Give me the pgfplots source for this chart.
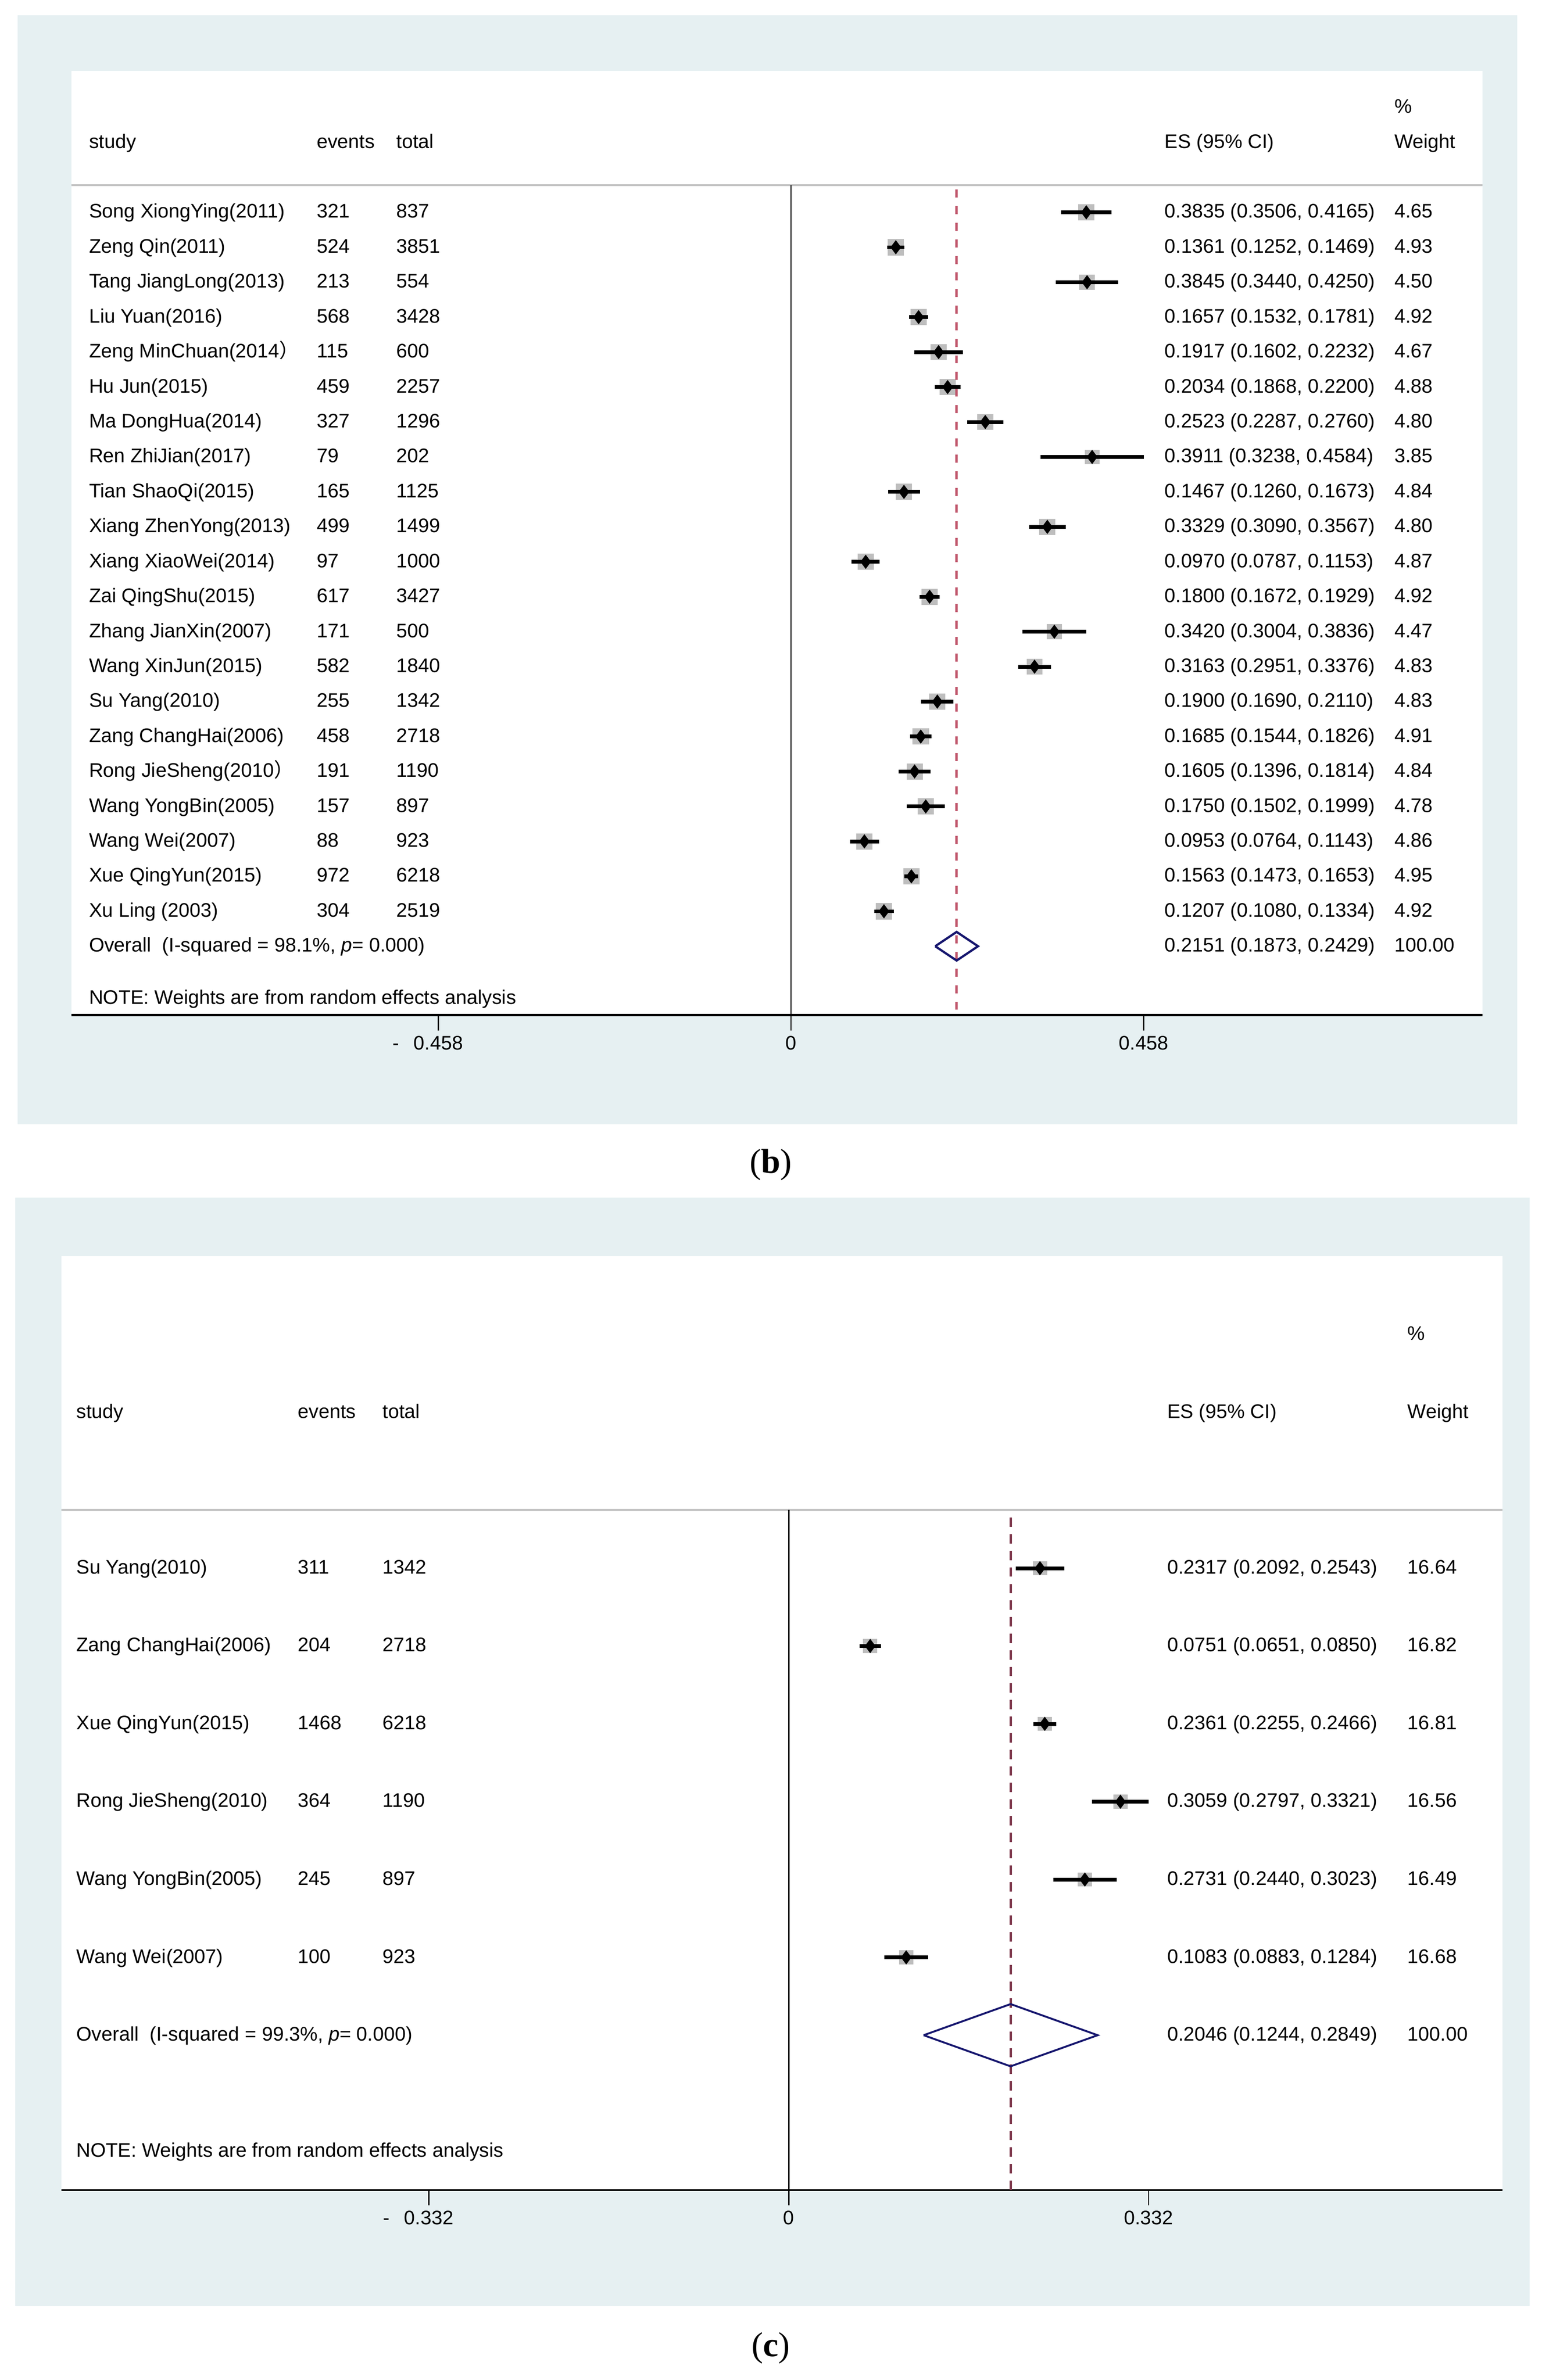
\documentclass[border=0pt]{standalone}
\usepackage{fontspec}
\setmainfont{Liberation Sans}
\newfontfamily\cjk{Noto Sans CJK SC}
\newfontfamily\capfont{Liberation Serif}
\usepackage{pgfplots}
\usepackage{pgfplotstable}
\pgfplotsset{compat=1.18}

% full-width right parenthesis, as typed in two of the study names
\protected\def\fwr{{\cjk ）}}

\definecolor{panelbg}{RGB}{230,240,242}
\definecolor{boxgray}{RGB}{190,190,190}
\definecolor{hdrgray}{RGB}{196,196,196}
\definecolor{refred}{RGB}{190,82,104}
\definecolor{refred2}{RGB}{125,55,75}
\definecolor{ovnavy}{RGB}{22,22,110}

% panel (b): all studies
\pgfplotstableread[col sep=semicolon]{
row;es;lo;hi;w;study;events;total
1;0.3835;0.3506;0.4165;4.65;Song XiongYing(2011);321;837
2;0.1361;0.1252;0.1469;4.93;Zeng Qin(2011);524;3851
3;0.3845;0.3440;0.4250;4.50;Tang JiangLong(2013);213;554
4;0.1657;0.1532;0.1781;4.92;Liu Yuan(2016);568;3428
5;0.1917;0.1602;0.2232;4.67;Zeng MinChuan(2014\fwr;115;600
6;0.2034;0.1868;0.2200;4.88;Hu Jun(2015);459;2257
7;0.2523;0.2287;0.2760;4.80;Ma DongHua(2014);327;1296
8;0.3911;0.3238;0.4584;3.85;Ren ZhiJian(2017);79;202
9;0.1467;0.1260;0.1673;4.84;Tian ShaoQi(2015);165;1125
10;0.3329;0.3090;0.3567;4.80;Xiang ZhenYong(2013);499;1499
11;0.0970;0.0787;0.1153;4.87;Xiang XiaoWei(2014);97;1000
12;0.1800;0.1672;0.1929;4.92;Zai QingShu(2015);617;3427
13;0.3420;0.3004;0.3836;4.47;Zhang JianXin(2007);171;500
14;0.3163;0.2951;0.3376;4.83;Wang XinJun(2015);582;1840
15;0.1900;0.1690;0.2110;4.83;Su Yang(2010);255;1342
16;0.1685;0.1544;0.1826;4.91;Zang ChangHai(2006);458;2718
17;0.1605;0.1396;0.1814;4.84;Rong JieSheng(2010\fwr;191;1190
18;0.1750;0.1502;0.1999;4.78;Wang YongBin(2005);157;897
19;0.0953;0.0764;0.1143;4.86;Wang Wei(2007);88;923
20;0.1563;0.1473;0.1653;4.95;Xue QingYun(2015);972;6218
21;0.1207;0.1080;0.1334;4.92;Xu Ling (2003);304;2519
}\tabb

% panel (c): subset
\pgfplotstableread[col sep=semicolon]{
row;es;lo;hi;w;study;events;total
1;0.2317;0.2092;0.2543;16.64;Su Yang(2010);311;1342
2;0.0751;0.0651;0.0850;16.82;Zang ChangHai(2006);204;2718
3;0.2361;0.2255;0.2466;16.81;Xue QingYun(2015);1468;6218
4;0.3059;0.2797;0.3321;16.56;Rong JieSheng(2010);364;1190
5;0.2731;0.2440;0.3023;16.49;Wang YongBin(2005);245;897
6;0.1083;0.0883;0.1284;16.68;Wang Wei(2007);100;923
}\tabc

\tikzset{lbl/.style={anchor=base west, inner sep=0pt, yshift=-0.36em}}

\pgfplotsset{
  % geometry of the two panels (shared by the box layer and the main axis)
  geob/.style={scale only axis, clip=false, enlargelimits=false,
    at={(15.9mm,-226.6mm)}, anchor=south west,
    width=314.9mm, height=210.8mm,
    xmin=-0.93481, xmax=0.89814, ymin=-23.97, ymax=3.05},
  geoc/.style={scale only axis, clip=false, enlargelimits=false,
    at={(13.7mm,-488.9mm)}, anchor=south west,
    width=321.5mm, height=208.5mm,
    xmin=-0.67094, xmax=0.65812, ymin=-8.99, ymax=3.01},
  fp/.style={axis x line*=bottom, axis y line=none,
    x axis line style={line width=1.3pt},
    tick align=outside, major tick length=3.4mm,
    xtick style={black, line width=0.7pt},
    xticklabel style={black}},
  txtcol/.style={draw=none, mark=none, black, nodes near coords={\pgfplotspointmeta},
    point meta=explicit symbolic,
    every node near coord/.append style={lbl}},
  numcol/.style={draw=none, mark=none, black, point meta=explicit,
    every node near coord/.append style={lbl,
      /pgf/number format/fixed, /pgf/number format/fixed zerofill,
      /pgf/number format/precision=#1,
      /pgf/number format/assume math mode=true}},
  boxes/.style={scatter, only marks, mark=square*, point meta=explicit,
    scatter/use mapped color={draw=boxgray, fill=boxgray},
    visualization depends on={#1*sqrt(\thisrow{w}) \as \msz},
    scatter/@pre marker code/.append style={/tikz/mark size=\msz}},
  cis/.style={only marks, mark=diamond*, mark size=4.2pt, black,
    error bars/.cd, x dir=both, x explicit, error mark=none,
    error bar style={line width=2.4pt, black}},
  esci/.style={numcol=4,
    visualization depends on={\thisrow{lo} \as \lo},
    visualization depends on={\thisrow{hi} \as \hi},
    nodes near coords={\pgfmathprintnumber{\pgfplotspointmeta} (\pgfmathprintnumber{\lo}, \pgfmathprintnumber{\hi})}},
}

\begin{document}
\begin{tikzpicture}[font=\fontsize{12.5}{15}\selectfont]
\useasboundingbox (0,0) rectangle (344mm,-531.3mm);
\fill[panelbg] (3.9mm,-3.4mm) rectangle (338.5mm,-251.0mm);
\fill[white] (15.9mm,-15.8mm) rectangle (330.8mm,-226.6mm);
\fill[panelbg] (3.4mm,-267.3mm) rectangle (341.3mm,-514.8mm);
\fill[white] (13.7mm,-280.4mm) rectangle (335.2mm,-488.9mm);
\node[font=\capfont\fontsize{22}{26}\selectfont] at (172mm,-260mm) {(\textbf{b})};
\node[font=\capfont\fontsize{22}{26}\selectfont] at (172mm,-524.2mm) {(\textbf{c})};

% ---------------- panel (b)
% weight boxes first, in their own hidden axis, so the CI lines sit on top
\begin{axis}[geob, hide axis]
\addplot[boxes=2.24] table[x=es, y expr=-\thisrow{row}, meta=w]{\tabb};
\end{axis}

\def\xst{-0.9121}\def\xev{-0.6164}\def\xto{-0.5128}\def\xes{0.4849}\def\xwt{0.7835}
\begin{axis}[geob, fp,
  xtick={-0.458,0,0.458},
  xticklabels={{\llap{-\hspace{0.75em}}0.458},0,0.458}]
\draw[hdrgray, line width=1.1pt] (axis cs:-0.93481,-0.22) -- (axis cs:0.89814,-0.22);
\addplot[black, line width=0.8pt] coordinates {(0,-0.22) (0,-23.97)};
\addplot[refred, line width=1.6pt, dash pattern=on 1.8mm off 1.9mm]
  coordinates {(0.2151,-0.35) (0.2151,-23.97)};
\addplot[cis] table[x=es, y expr=-\thisrow{row},
  x error plus expr=\thisrow{hi}-\thisrow{es},
  x error minus expr=\thisrow{es}-\thisrow{lo}]{\tabb};
\addplot[ovnavy, line width=1.4pt, line join=miter]
  coordinates {(0.1873,-22) (0.2151,-21.59) (0.2429,-22) (0.2151,-22.41) (0.1873,-22)};
\addplot[txtcol] table[x expr=\xst, y expr=-\thisrow{row}, meta=study]{\tabb};
\addplot[txtcol] table[x expr=\xev, y expr=-\thisrow{row}, meta=events]{\tabb};
\addplot[txtcol] table[x expr=\xto, y expr=-\thisrow{row}, meta=total]{\tabb};
\addplot[esci] table[x expr=\xes, y expr=-\thisrow{row}, meta=es]{\tabb};
\addplot[numcol=2, nodes near coords={\pgfmathprintnumber{\pgfplotspointmeta}}]
  table[x expr=\xwt, y expr=-\thisrow{row}, meta=w]{\tabb};
\node[lbl] at (axis cs:\xst,1) {study};
\node[lbl] at (axis cs:\xev,1) {events};
\node[lbl] at (axis cs:\xto,1) {total};
\node[lbl] at (axis cs:\xes,1) {ES (95\% CI)};
\node[lbl] at (axis cs:\xwt,1) {Weight};
\node[lbl] at (axis cs:\xwt,2) {\%};
\node[lbl] at (axis cs:\xst,-22) {Overall\ \ (I-squared = 98.1\%, \textit{p}= 0.000)};
\node[lbl] at (axis cs:\xes,-22) {0.2151 (0.1873, 0.2429)};
\node[lbl] at (axis cs:\xwt,-22) {100.00};
\node[lbl] at (axis cs:\xst,-23.49) {NOTE: Weights are from random effects analysis};
\end{axis}

% ---------------- panel (c)
\begin{axis}[geoc, hide axis]
\addplot[boxes=1.05] table[x=es, y expr=-\thisrow{row}, meta=w]{\tabc};
\end{axis}

\def\xst{-0.6573}\def\xev{-0.4531}\def\xto{-0.3749}\def\xes{0.3489}\def\xwt{0.5705}
\begin{axis}[geoc, fp,
  xtick={-0.332,0,0.332},
  xticklabels={{\llap{-\hspace{0.75em}}0.332},0,0.332}]
\draw[hdrgray, line width=1.1pt] (axis cs:-0.67094,-0.25) -- (axis cs:0.65812,-0.25);
\addplot[black, line width=0.8pt] coordinates {(0,-0.25) (0,-8.99)};
\addplot[refred2, line width=1.5pt, dash pattern=on 2.1mm off 1.6mm]
  coordinates {(0.2046,-0.35) (0.2046,-8.99)};
\addplot[cis] table[x=es, y expr=-\thisrow{row},
  x error plus expr=\thisrow{hi}-\thisrow{es},
  x error minus expr=\thisrow{es}-\thisrow{lo}]{\tabc};
\addplot[ovnavy, line width=1.2pt, line join=miter]
  coordinates {(0.1244,-7) (0.2046,-6.6) (0.2849,-7) (0.2046,-7.4) (0.1244,-7)};
\addplot[txtcol] table[x expr=\xst, y expr=-\thisrow{row}, meta=study]{\tabc};
\addplot[txtcol] table[x expr=\xev, y expr=-\thisrow{row}, meta=events]{\tabc};
\addplot[txtcol] table[x expr=\xto, y expr=-\thisrow{row}, meta=total]{\tabc};
\addplot[esci] table[x expr=\xes, y expr=-\thisrow{row}, meta=es]{\tabc};
\addplot[numcol=2, nodes near coords={\pgfmathprintnumber{\pgfplotspointmeta}}]
  table[x expr=\xwt, y expr=-\thisrow{row}, meta=w]{\tabc};
\node[lbl] at (axis cs:\xst,1) {study};
\node[lbl] at (axis cs:\xev,1) {events};
\node[lbl] at (axis cs:\xto,1) {total};
\node[lbl] at (axis cs:\xes,1) {ES (95\% CI)};
\node[lbl] at (axis cs:\xwt,1) {Weight};
\node[lbl] at (axis cs:\xwt,2) {\%};
\node[lbl] at (axis cs:\xst,-7) {Overall\ \ (I-squared = 99.3\%, \textit{p}= 0.000)};
\node[lbl] at (axis cs:\xes,-7) {0.2046 (0.1244, 0.2849)};
\node[lbl] at (axis cs:\xwt,-7) {100.00};
\node[lbl] at (axis cs:\xst,-8.49) {NOTE: Weights are from random effects analysis};
\end{axis}
\end{tikzpicture}
\end{document}
